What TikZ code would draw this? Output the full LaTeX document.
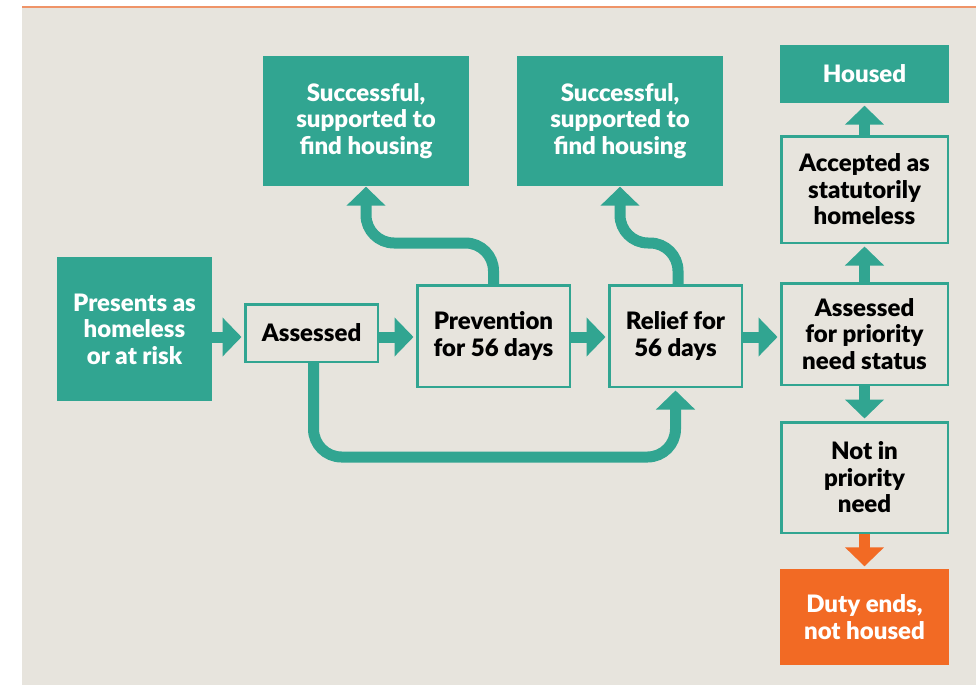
\documentclass[tikz,border=0pt]{standalone}
\usepackage{fontspec}
\setmainfont{Lato}[BoldFont={Lato Black}]
\usetikzlibrary{arrows.meta}
\definecolor{sea}{HTML}{31A591}
\definecolor{sand}{HTML}{E7E4DD}
\definecolor{duty}{HTML}{F26A24}
\definecolor{rule}{HTML}{EF9468}

\begin{document}
\begin{tikzpicture}[x=1pt,y=-1pt]
		\tikzstyle{plein} = [fill=sea,text=white,font=\bfseries\fontsize{24}{26.5}\selectfont,align=center,inner sep=0pt]
		\tikzstyle{cadre} = [draw=sea,line width=2.5pt,font=\bfseries\fontsize{24}{26.5}\selectfont,align=center,inner sep=0pt]
		\tikzstyle{fleche} = [sea,line width=11pt,-{Triangle[width=38pt,length=19pt]},shorten >=2.5pt]
		
		\useasboundingbox (0,0) rectangle (976,685);
		\fill[sand] (22,8) rectangle (976,685);
		\draw[rule,line width=2pt] (22,7) -- (976,7);
		
		\node[plein,minimum width=155pt,minimum height=144pt](P) at (134.5,329) {Presents as\\homeless\\or at risk};
		\node[cadre,minimum width=132.5pt,minimum height=57.5pt](A) at (311.5,333) {Assessed};
		\node[cadre,minimum width=152.5pt,minimum height=101.5pt](Prev) at (493.5,336) {Prevention\\for 56 days};
		\node[cadre,minimum width=132.5pt,minimum height=101.5pt](Rel) at (675.5,336) {Relief for\\56 days};
		\node[plein,minimum width=206pt,minimum height=130pt](S1) at (366,121) {Successful,\\supported to\\find housing};
		\node[plein,minimum width=206pt,minimum height=130pt](S2) at (620,121) {Successful,\\supported to\\find housing};
		\node[plein,minimum width=169pt,minimum height=58pt](H) at (864.5,74) {Housed};
		\node[cadre,minimum width=166.5pt,minimum height=106.5pt](Acc) at (864.5,189.5) {Accepted as\\statutorily\\homeless};
		\node[cadre,minimum width=166.5pt,minimum height=101.5pt](Pri) at (864.5,334) {Assessed\\for priority\\need status};
		\node[cadre,minimum width=166.5pt,minimum height=110.5pt](Not) at (864.5,477.5) {Not in\\priority\\need};
		\node[plein,fill=duty,minimum width=169pt,minimum height=96pt](D) at (864.5,617) {Duty ends,\\not housed};
		
		\coordinate (row) at (0,337);
		\draw[fleche] (P.east |- row) -- (A.west |- row);
		\draw[fleche] (A.east |- row) -- (Prev.west |- row);
		\draw[fleche] (Prev.east |- row) -- (Rel.west |- row);
		\draw[fleche] (Rel.east |- row) -- (Pri.west |- row);
		
		\draw[fleche] (Acc.north) -- (H.south);
		\draw[fleche] (Pri.north) -- (Acc.south);
		\draw[fleche] (Pri.south) -- (Not.north);
		\draw[fleche,duty] (Not.south) -- (D.north);
		
		\draw[fleche,rounded corners=28pt,shorten >=0.5pt] (Prev.north) -- ++(0,-41) -| (S1.south);
		\draw[fleche,rounded corners=28pt,shorten >=0.5pt] ([xshift=2.5pt]Rel.north) -- ++(0,-41) -| (S2.south);
		\draw[fleche,rounded corners=28pt] ([xshift=2pt]A.south) -- ++(0,94) -| (Rel.south);
		
\end{tikzpicture}
\end{document}
